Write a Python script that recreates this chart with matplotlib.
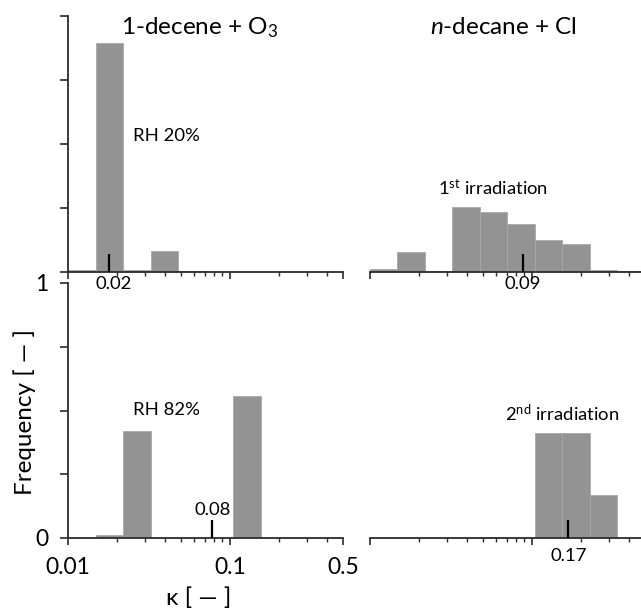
import numpy as np
import matplotlib
matplotlib.use('Agg')
import matplotlib.pyplot as plt

plt.rcParams['font.family'] = ['Lato', 'DejaVu Sans']
plt.rcParams['mathtext.fontset'] = 'custom'
plt.rcParams['mathtext.rm'] = 'Lato'
plt.rcParams['mathtext.it'] = 'Lato:italic'

# log-spaced kappa bins, 0.01 .. 0.5
kappa_lo = 0.01
kappa_hi = 0.5
n_bins = 10

# frequencies per bin
freq_decene_rh20 = [0.008, 0.895, 0.008, 0.082, 0.005, 0.001, 0.0, 0.001, 0.0, 0.0]
freq_decene_rh82 = [0.0, 0.012, 0.42, 0.0, 0.0, 0.0, 0.557, 0.0, 0.0, 0.0]
freq_decane_irr1 = [0.01, 0.077, 0.004, 0.253, 0.234, 0.188, 0.126, 0.109, 0.009, 0.003]
freq_decane_irr2 = [0.0, 0.0, 0.0, 0.0, 0.004, 0.0, 0.41, 0.41, 0.17, 0.0]

# medians
med_values = [0.018, 0.078, 0.088, 0.168]
med_labels = ['0.02', '0.08', '0.09', '0.17']

titles = ['1-decene + O$_3$', '$n$-decane + Cl']
notes = ['RH 20%', 'RH 82%', '1$^{\\mathrm{st}}$ irradiation', '2$^{\\mathrm{nd}}$ irradiation']

edges = np.logspace(np.log10(kappa_lo), np.log10(kappa_hi), n_bins + 1)

W, H = 641, 608
fig = plt.figure(figsize=(W / 100, H / 100), dpi=100)


def px_axes(x0, x1, y_top, y_bot):
    return fig.add_axes([x0 / W, 1 - y_bot / H, (x1 - x0) / W, (y_bot - y_top) / H])


ax_tl = px_axes(68, 343, 16, 272)
ax_bl = px_axes(68, 343, 283, 538)
ax_tr = px_axes(370, 645, 16, 272)
ax_br = px_axes(370, 645, 283, 538)

bar_col = '#939393'
axis_col = '#2b2b2b'
fs_note = 13.3

panels = [
    (ax_tl, freq_decene_rh20, 0),
    (ax_bl, freq_decene_rh82, 1),
    (ax_tr, freq_decane_irr1, 2),
    (ax_br, freq_decane_irr2, 3),
]

for ax, freq, i in panels:
    ax.bar(edges[:-1], freq, width=np.diff(edges), align='edge',
           color=bar_col, edgecolor='#a8a8a8', linewidth=0.6, zorder=2)
    ax.set_xscale('log')
    ax.set_xlim(kappa_lo, kappa_hi)
    ax.set_ylim(0, 1)
    for s in ['top', 'right']:
        ax.spines[s].set_visible(False)
    ax.spines['bottom'].set_color(axis_col)
    ax.spines['bottom'].set_linewidth(1.3)
    ax.spines['bottom'].set_zorder(3)
    ax.set_xticks([0.01, 0.1, 0.5])
    ax.set_xticks([0.02, 0.03, 0.04, 0.05, 0.06, 0.07, 0.08, 0.09, 0.2, 0.3, 0.4], minor=True)
    ax.tick_params(axis='x', which='major', direction='out', length=5, width=1.2,
                   color=axis_col, labelsize=16.5, pad=9)
    ax.tick_params(axis='x', which='minor', direction='out', length=3, width=1.0,
                   color=axis_col, labelbottom=False)
    # median marker
    m = med_values[i]
    ax.plot([m, m], [0, 0.07], color='black', lw=1.6, zorder=4, solid_capstyle='butt')
    ax.patch.set_alpha(0)

for ax in [ax_tl, ax_bl]:
    ax.spines['left'].set_color(axis_col)
    ax.spines['left'].set_linewidth(1.3)
    ax.set_yticks([0, 0.25, 0.5, 0.75, 1])
    ax.tick_params(axis='y', direction='out', length=6, width=1.2, color=axis_col,
                   labelsize=16.5, pad=8)

for ax in [ax_tr, ax_br]:
    ax.spines['left'].set_visible(False)
    ax.set_yticks([])

ax_tl.set_yticklabels([])
ax_bl.set_yticklabels(['0', '', '', '', '1'])
ax_bl.set_xticklabels(['0.01', '0.1', '0.5'])
for ax in [ax_tl, ax_tr, ax_br]:
    ax.set_xticklabels([])

# titles
ax_tl.text(0.48, 0.955, titles[0], transform=ax_tl.transAxes, ha='center', va='center', fontsize=17.5)
ax_tr.text(0.484, 0.955, titles[1], transform=ax_tr.transAxes, ha='center', va='center', fontsize=17.5)

# annotations
ax_tl.text(0.0252, 0.53, notes[0], ha='left', va='center', fontsize=fs_note)
ax_bl.text(0.0252, 0.50, notes[1], ha='left', va='center', fontsize=fs_note)
ax_tr.text(0.0574, 0.33, notes[2], ha='center', va='center', fontsize=fs_note)
ax_br.text(0.153, 0.49, notes[3], ha='center', va='center', fontsize=fs_note)

# median labels
ax_tl.text(med_values[0] * 1.06, -0.045, med_labels[0], ha='center', va='center', fontsize=fs_note)
ax_bl.text(med_values[1], 0.11, med_labels[1], ha='center', va='center', fontsize=fs_note)
ax_tr.text(med_values[2], -0.045, med_labels[2], ha='center', va='center', fontsize=fs_note)
ax_br.text(med_values[3], -0.07, med_labels[3], ha='center', va='center', fontsize=fs_note)

fig.text(25 / W, 1 - 412 / H, 'Frequency [ — ]', rotation=90, ha='center', va='center', fontsize=17.5)
fig.text(199 / W, 1 - 598 / H, 'κ [ — ]', ha='center', va='center', fontsize=17.5)

fig.savefig('out.png', dpi=100)
